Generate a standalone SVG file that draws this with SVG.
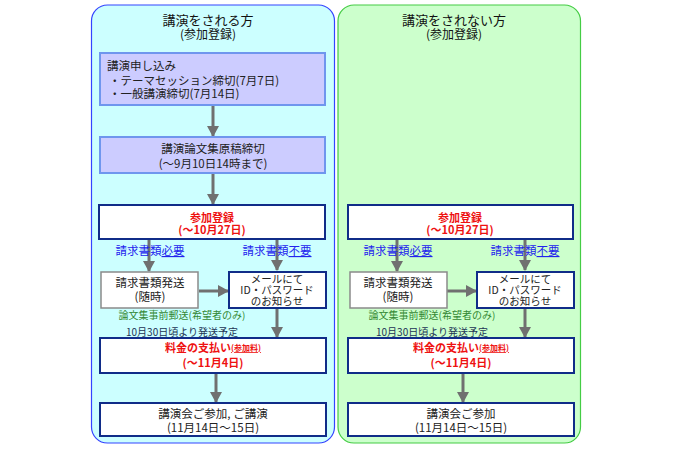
<svg xmlns="http://www.w3.org/2000/svg" width="682" height="450" viewBox="0 0 682 450">
<defs>
<marker id="ah" markerUnits="userSpaceOnUse" markerWidth="12" markerHeight="12" viewBox="0 0 12 12" refX="10" refY="6" orient="auto">
<path d="M0,0 L11,6 L0,12 Z" fill="#707070"/>
</marker>
</defs>
<style>
text{font-family:"Noto Sans CJK JP","Noto Sans",sans-serif;dominant-baseline:central}
.t{font-size:11.5px;fill:#222;text-anchor:middle}
.m{font-size:10.5px;fill:#222;text-anchor:middle}
.tl{font-size:11.5px;fill:#222}
.h{font-size:13px;fill:#111;text-anchor:middle}
.r{font-size:11px;fill:#ee1111;font-weight:bold;text-anchor:middle}
.b{font-size:11.5px;fill:#2222ee;text-anchor:middle}
.g{font-size:10px;fill:#338833;text-anchor:middle}
.n{font-size:10px;fill:#223355;text-anchor:middle}
.lav{fill:#ccccff;stroke:#6f96ee;stroke-width:2}
.wn{fill:#ffffff;stroke:#102c88;stroke-width:2}
.wg{fill:#ffffff;stroke:#8a8a8a;stroke-width:1.5}
.c{stroke:#707070;stroke-width:3;fill:none;marker-end:url(#ah)}
</style>
<rect width="682" height="450" fill="#ffffff"/>
<g id="panel-left">
<rect x="91.5" y="5" width="243" height="438" rx="16" fill="#ccffff" stroke="#3344ff" stroke-width="1.2"/>
<text class="h" x="208" y="19">講演をされる方</text>
<text class="h" x="208" y="33" style="font-size:12px">(参加登録)</text>
</g>
<g id="panel-right">
<rect x="338" y="5" width="242.5" height="438" rx="16" fill="#ccffcc" stroke="#44cc44" stroke-width="1.2"/>
<text class="h" x="454" y="19">講演をされない方</text>
<text class="h" x="454" y="33" style="font-size:12px">(参加登録)</text>
</g>
<g id="connectors">
<line class="c" x1="213" y1="106" x2="213" y2="136"/>
<line class="c" x1="213" y1="173" x2="213" y2="204"/>
<line class="c" x1="149" y1="240" x2="149" y2="271"/>
<line class="c" x1="277" y1="240" x2="277" y2="270"/>
<line class="c" x1="199" y1="291" x2="228" y2="291"/>
<line class="c" x1="277" y1="308" x2="277" y2="337"/>
<line class="c" x1="216" y1="373" x2="216" y2="402"/>
<line class="c" x1="397" y1="240" x2="397" y2="271"/>
<line class="c" x1="525" y1="240" x2="525" y2="270"/>
<line class="c" x1="447" y1="291" x2="476" y2="291"/>
<line class="c" x1="525" y1="308" x2="525" y2="337"/>
<line class="c" x1="463" y1="373" x2="463" y2="402"/>
</g>
<g id="L-apply">
<rect class="lav" x="100" y="53" width="225" height="52"/>
<text class="tl" x="107" y="65">講演申し込み</text>
<text class="tl" x="109" y="80">・テーマセッション締切(7月7日)</text>
<text class="tl" x="109" y="93">・一般講演締切(7月14日)</text>
</g>
<g id="L-paper">
<rect class="lav" x="100" y="137" width="225" height="36"/>
<text class="t" x="213" y="148">講演論文集原稿締切</text>
<text class="t" x="213" y="163">(～9月10日14時まで)</text>
</g>
<g id="L-register">
<rect class="wn" x="99" y="205" width="226" height="34"/>
<text class="r" x="212" y="217">参加登録</text>
<text class="r" x="212" y="229">(～10月27日)</text>
</g>
<g id="L-lbl-need">
<text class="b" x="150" y="250">請求書類<tspan text-decoration="underline">必要</tspan></text>
</g>
<g id="L-lbl-noneed">
<text class="b" x="277" y="250">請求書類<tspan text-decoration="underline">不要</tspan></text>
</g>
<g id="L-invoice">
<rect class="wg" x="101" y="272" width="97" height="36"/>
<text class="t" x="150" y="282">請求書類発送</text>
<text class="t" x="150" y="296">(随時)</text>
</g>
<g id="L-mail">
<rect class="wn" x="229" y="272" width="97" height="36"/>
<text class="m" x="277" y="278">メールにて</text>
<text class="m" x="277" y="289">ID・パスワード</text>
<text class="m" x="277" y="300">のお知らせ</text>
</g>
<g id="L-note">
<text class="g" x="182" y="314">論文集事前郵送(希望者のみ)</text>
<text class="n" x="182" y="331">10月30日頃より発送予定</text>
</g>
<g id="L-pay">
<rect class="wn" x="100" y="338" width="226" height="35"/>
<text class="r" x="213" y="347">料金の支払い<tspan style="font-size:8px" text-decoration="underline">(参加料)</tspan></text>
<text class="r" x="213" y="362">(～11月4日)</text>
</g>
<g id="L-attend">
<rect class="wn" x="100" y="403" width="226" height="33"/>
<text class="t" x="213" y="413">講演会ご参加, ご講演</text>
<text class="t" x="213" y="427">(11月14日～15日)</text>
</g>
<g id="R-register">
<rect class="wn" x="348" y="205" width="225" height="34"/>
<text class="r" x="460" y="217">参加登録</text>
<text class="r" x="460" y="229">(～10月27日)</text>
</g>
<g id="R-lbl-need">
<text class="b" x="398" y="250">請求書類<tspan text-decoration="underline">必要</tspan></text>
</g>
<g id="R-lbl-noneed">
<text class="b" x="525" y="250">請求書類<tspan text-decoration="underline">不要</tspan></text>
</g>
<g id="R-invoice">
<rect class="wg" x="350" y="272" width="97" height="36"/>
<text class="t" x="398" y="282">請求書類発送</text>
<text class="t" x="398" y="296">(随時)</text>
</g>
<g id="R-mail">
<rect class="wn" x="477" y="272" width="97" height="36"/>
<text class="m" x="525" y="278">メールにて</text>
<text class="m" x="525" y="289">ID・パスワード</text>
<text class="m" x="525" y="300">のお知らせ</text>
</g>
<g id="R-note">
<text class="g" x="432" y="314">論文集事前郵送(希望者のみ)</text>
<text class="n" x="432" y="331">10月30日頃より発送予定</text>
</g>
<g id="R-pay">
<rect class="wn" x="348" y="338" width="226" height="35"/>
<text class="r" x="461" y="347">料金の支払い<tspan style="font-size:8px" text-decoration="underline">(参加料)</tspan></text>
<text class="r" x="461" y="362">(～11月4日)</text>
</g>
<g id="R-attend">
<rect class="wn" x="348" y="403" width="226" height="33"/>
<text class="t" x="461" y="413">講演会ご参加</text>
<text class="t" x="461" y="427">(11月14日～15日)</text>
</g>
</svg>
